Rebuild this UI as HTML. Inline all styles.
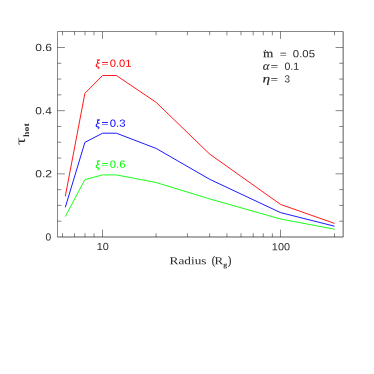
<!DOCTYPE html>
<html><head><meta charset="utf-8"><title>plot</title>
<style>
html,body{margin:0;padding:0;background:#fff;}
body{width:374px;height:374px;overflow:hidden;}
svg{display:block;will-change:transform;opacity:0.999;}
text{font-family:"Liberation Serif",serif;text-rendering:geometricPrecision;}
.s{font-family:"Liberation Sans",sans-serif;}
</style></head><body>
<svg width="374" height="374" viewBox="0 0 374 374">
<rect width="374" height="374" fill="#fff"/>
<g stroke="#000" stroke-width="0.47" fill="none" stroke-linecap="butt">
<path d="M343.0 31.5H57.5V237.0" stroke-linejoin="miter"/>
<path d="M57.5 237.0H343.15V31.5" stroke-width="0.65" stroke-linejoin="miter"/>
<path d="M62.5 237.0v-3.8M62.5 31.5v3.8M74.5 237.0v-3.8M74.5 31.5v3.8M85.0 237.0v-3.8M85.0 31.5v3.8M94.0 237.0v-3.8M94.0 31.5v3.8M102.5 237.0v-7.4M102.5 31.5v7.4M156.08 237.0v-3.8M156.08 31.5v3.8M187.43 237.0v-3.8M187.43 31.5v3.8M209.67 237.0v-3.8M209.67 31.5v3.8M226.92 237.0v-3.8M226.92 31.5v3.8M241.01 237.0v-3.8M241.01 31.5v3.8M253.2 237.0v-3.8M253.2 31.5v3.8M263.25 237.0v-3.8M263.25 31.5v3.8M272.36 237.0v-3.8M272.36 31.5v3.8M280.5 237.0v-7.4M280.5 31.5v7.4M334.5 237.0v-3.8M334.5 31.5v3.8M57.5 221.21h3.8M343.0 221.21h-3.8M57.5 205.42h3.8M343.0 205.42h-3.8M57.5 189.62h3.8M343.0 189.62h-3.8M57.5 173.83h7.4M343.0 173.83h-7.4M57.5 158.04h3.8M343.0 158.04h-3.8M57.5 142.25h3.8M343.0 142.25h-3.8M57.5 126.46h3.8M343.0 126.46h-3.8M57.5 110.67h7.4M343.0 110.67h-7.4M57.5 94.87h3.8M343.0 94.87h-3.8M57.5 79.08h3.8M343.0 79.08h-3.8M57.5 63.29h3.8M343.0 63.29h-3.8M57.5 47.5h7.4M343.0 47.5h-7.4"/>
</g>
<polyline points="65.3,196.3 84.9,93.3 102.6,75.5 116.4,75.5 156.15,102.35 209.7,154.1 280.5,204.4 334.5,223.4" fill="none" stroke="#ff0000" stroke-width="0.9" stroke-linejoin="round" stroke-linecap="butt"/>
<polyline points="65.3,207.3 84.9,142.35 102.6,133.2 116.4,133.2 156.15,148.45 209.7,179.3 280.5,212.6 334.5,226.2" fill="none" stroke="#0000ff" stroke-width="0.9" stroke-linejoin="round" stroke-linecap="butt"/>
<polyline points="65.3,216.6 84.9,179.6 102.6,174.9 116.4,174.9 156.15,182.5 209.7,198.9 280.5,219.0 334.5,229.2" fill="none" stroke="#00ff00" stroke-width="0.9" stroke-linejoin="round" stroke-linecap="butt"/>
<g transform="matrix(1 0.0006 0 1 0 -0.1)">
<text x="35.23" y="51.1" font-size="10.35" fill="#2a2a2a" textLength="16.70" lengthAdjust="spacingAndGlyphs" class="s">0.6</text>
<text x="35.24" y="114.27" font-size="10.35" fill="#2a2a2a" textLength="16.51" lengthAdjust="spacingAndGlyphs" class="s">0.4</text>
<text x="35.23" y="177.43" font-size="10.35" fill="#2a2a2a" textLength="16.78" lengthAdjust="spacingAndGlyphs" class="s">0.2</text>
<text x="45.60" y="240.6" font-size="10.35" fill="#2a2a2a" textLength="5.70" lengthAdjust="spacingAndGlyphs" class="s">0</text>
<text x="96.68" y="250.1" font-size="10.35" fill="#2a2a2a" textLength="12.05" lengthAdjust="spacingAndGlyphs" class="s">10</text>
<text x="271.87" y="250.1" font-size="10.35" fill="#2a2a2a" textLength="18.16" lengthAdjust="spacingAndGlyphs" class="s">100</text>
<text x="169.62" y="264.2" font-size="10.7" fill="#2a2a2a" textLength="36.86" lengthAdjust="spacingAndGlyphs">Radius</text>
<text x="211.65" y="264.3" font-size="12.0" fill="#2a2a2a" textLength="3.37" lengthAdjust="spacingAndGlyphs" stroke="#2a2a2a" stroke-width="0.2">(</text>
<text x="214.63" y="264.2" font-size="10.7" fill="#2a2a2a" textLength="8.59" lengthAdjust="spacingAndGlyphs">R</text>
<text x="223.30" y="267.0" font-size="6.8" fill="#2a2a2a" textLength="3.88" lengthAdjust="spacingAndGlyphs" font-weight="bold">g</text>
<text x="227.98" y="264.3" font-size="12.0" fill="#2a2a2a" textLength="3.37" lengthAdjust="spacingAndGlyphs" stroke="#2a2a2a" stroke-width="0.2">)</text>
</g>
<g transform="translate(24.8,144.5) rotate(-90.02)"><text x="-0.42" y="0" font-size="14.0" fill="#2a2a2a" textLength="7.63" lengthAdjust="spacingAndGlyphs">τ</text>
<text x="7.56" y="4.3" font-size="8.2" fill="#2a2a2a" textLength="13.59" lengthAdjust="spacingAndGlyphs" font-weight="bold">hot</text>
</g>
<g transform="matrix(1 0.0006 0 1 0 -0.1)">
<text x="262.92" y="57.2" font-size="11.8" fill="#2a2a2a" textLength="10.29" lengthAdjust="spacingAndGlyphs" stroke="#2a2a2a" stroke-width="0.15">m</text>
<circle cx="265.4" cy="50.3" r="0.7" fill="#2a2a2a"/>
<text x="279.68" y="57.8" font-size="10.7" fill="#2a2a2a" textLength="7.03" lengthAdjust="spacingAndGlyphs">=</text>
<text x="292.86" y="57.2" font-size="10.35" fill="#2a2a2a" textLength="22.12" lengthAdjust="spacingAndGlyphs" class="s">0.05</text>
<text x="262.72" y="69.8" font-size="11.8" fill="#2a2a2a" textLength="6.68" lengthAdjust="spacingAndGlyphs" font-style="italic" stroke="#2a2a2a" stroke-width="0.15">α</text>
<text x="270.62" y="70.3" font-size="10.7" fill="#2a2a2a" textLength="7.64" lengthAdjust="spacingAndGlyphs">=</text>
<text x="284.49" y="69.7" font-size="10.35" fill="#2a2a2a" textLength="14.73" lengthAdjust="spacingAndGlyphs" class="s">0.1</text>
<text x="262.44" y="82.4" font-size="11.8" fill="#2a2a2a" textLength="7.70" lengthAdjust="spacingAndGlyphs" font-style="italic" stroke="#2a2a2a" stroke-width="0.15">η</text>
<text x="270.62" y="83.2" font-size="10.7" fill="#2a2a2a" textLength="7.64" lengthAdjust="spacingAndGlyphs">=</text>
<text x="284.52" y="82.4" font-size="10.35" fill="#2a2a2a" textLength="5.51" lengthAdjust="spacingAndGlyphs" class="s">3</text>
<text x="95.55" y="67.4" font-size="11.0" fill="#ff0000" textLength="4.35" lengthAdjust="spacingAndGlyphs" font-style="italic" stroke="#ff0000" stroke-width="0.25">ξ</text>
<text x="101.48" y="67.25" font-size="10.7" fill="#ff0000" textLength="7.03" lengthAdjust="spacingAndGlyphs" stroke="#ff0000" stroke-width="0.15">=</text>
<text x="109.76" y="66.9" font-size="10.35" fill="#ff0000" textLength="21.84" lengthAdjust="spacingAndGlyphs" class="s">0.01</text>
<text x="95.55" y="127.2" font-size="11.0" fill="#0000ff" textLength="4.35" lengthAdjust="spacingAndGlyphs" font-style="italic" stroke="#0000ff" stroke-width="0.25">ξ</text>
<text x="101.48" y="127.3" font-size="10.7" fill="#0000ff" textLength="7.03" lengthAdjust="spacingAndGlyphs" stroke="#0000ff" stroke-width="0.15">=</text>
<text x="109.76" y="126.7" font-size="10.35" fill="#0000ff" textLength="15.74" lengthAdjust="spacingAndGlyphs" class="s">0.3</text>
<text x="95.55" y="168.2" font-size="11.0" fill="#00ff00" textLength="4.35" lengthAdjust="spacingAndGlyphs" font-style="italic" stroke="#00ff00" stroke-width="0.25">ξ</text>
<text x="101.48" y="168.3" font-size="10.7" fill="#00ff00" textLength="7.03" lengthAdjust="spacingAndGlyphs" stroke="#00ff00" stroke-width="0.15">=</text>
<text x="109.76" y="167.7" font-size="10.35" fill="#00ff00" textLength="15.74" lengthAdjust="spacingAndGlyphs" class="s">0.6</text>
</g>
</svg>
</body></html>
